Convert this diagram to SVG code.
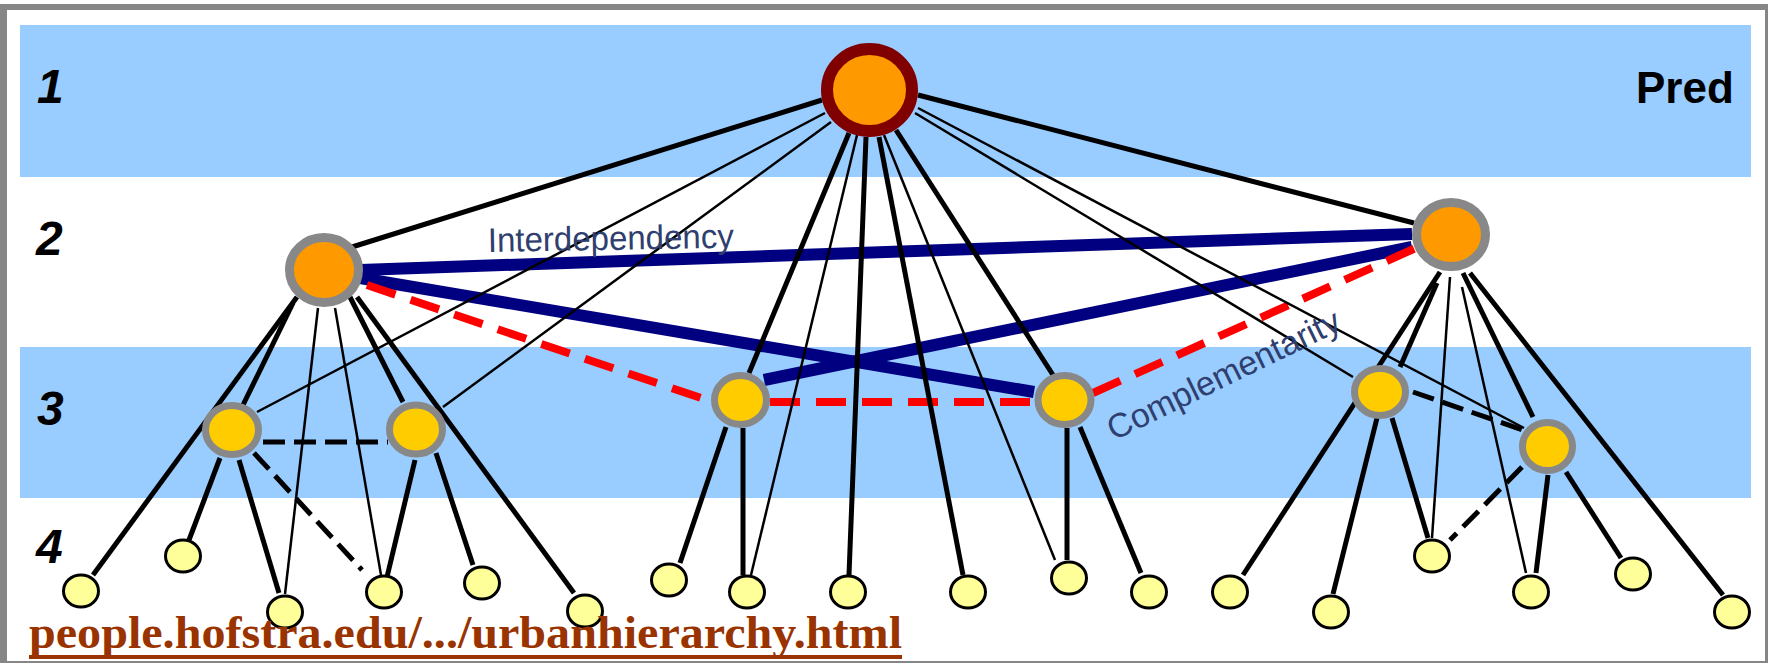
<svg xmlns="http://www.w3.org/2000/svg" width="1768" height="663" viewBox="0 0 1768 663">
<style>
.band{fill:#99CCFF}
.row{font-family:"Liberation Sans",Arial,sans-serif;font-weight:bold;font-style:italic;font-size:48px;fill:#000}
.lbl{font-family:"Liberation Sans",Arial,sans-serif;font-size:34px;fill:#2F3F6F}
.thick{stroke:#000;stroke-width:5;fill:none}
.thin{stroke:#000;stroke-width:2.5;fill:none}
.bdash{stroke:#000;stroke-width:5;fill:none;stroke-dasharray:22 9}
.navy{stroke:#000080;stroke-width:12;fill:none}
.red{stroke:#FF0000;stroke-width:8;fill:none;stroke-dasharray:30 16}
.top{fill:#FF9900;stroke:#800000;stroke-width:12}
.l2{fill:#FF9900;stroke:#888888;stroke-width:9}
.l3{fill:#FFCC00;stroke:#888888;stroke-width:7}
.l4{fill:#FFFF99;stroke:#000;stroke-width:3}
</style>
<rect x="0" y="0" width="1768" height="663" fill="#FFFFFF"/>
<g id="frame" fill="#868686">
<rect x="0" y="4" width="1768" height="6"/>
<rect x="0" y="4" width="7" height="659"/>
<rect x="1765" y="4" width="3" height="659"/>
<rect x="0" y="661" width="1768" height="2"/>
</g>
<g id="bands">
<rect class="band" x="20" y="25" width="1731" height="152"/>
<rect class="band" x="20" y="347" width="1731" height="151"/>
</g>
<g id="row-labels">
<text class="row" x="37" y="103">1</text>
<text class="row" x="36" y="255">2</text>
<text class="row" x="37" y="425">3</text>
<text class="row" x="36" y="563">4</text>
<text x="1636" y="103" font-family="Liberation Sans,Arial,sans-serif" font-weight="bold" font-size="44">Pred</text>
</g>
<g id="connectors">
<path class="navy" d="M360,270 L1412,234"/>
<path class="navy" d="M360,278 L1034,392"/>
<path class="navy" d="M764,380 L1412,247"/>
<path class="red" d="M367,285 L707,400"/>
<path class="red" d="M770,402 L1034,402"/>
<path class="red" d="M1093,393 L1418,247"/>
<path class="thick" d="M822,100 L352,247"/>
<path class="thick" d="M918,95 L1414,223"/>
<path class="thick" d="M849,133 L749,373"/>
<path class="thick" d="M866,137 L849,575"/>
<path class="thick" d="M879,137 L963,575"/>
<path class="thick" d="M896,130 L1053,375"/>
<path class="thin" d="M825,113 L257,412"/>
<path class="thin" d="M831,122 L443,407"/>
<path class="thin" d="M857,135 L751,575"/>
<path class="thin" d="M884,135 L1055,560"/>
<path class="thin" d="M918,108 L1524,428"/>
<path class="thin" d="M915,113 L1353,377"/>
<path class="thick" d="M297,297 L93,575"/>
<path class="thick" d="M293,303 L243,405"/>
<path class="thick" d="M350,297 L403,402"/>
<path class="thick" d="M357,297 L574,593"/>
<path class="thin" d="M318,308 L285,594"/>
<path class="thin" d="M335,308 L381,575"/>
<path class="thick" d="M220,458 L189,540"/>
<path class="thick" d="M239,460 L279,593"/>
<path class="thick" d="M415,460 L387,577"/>
<path class="thick" d="M436,453 L473,565"/>
<path class="bdash" d="M254,453 L362,570"/>
<path class="bdash" d="M263,442 L388,442"/>
<path class="thick" d="M726,427 L680,563"/>
<path class="thick" d="M743,428 L743,575"/>
<path class="thick" d="M1067,428 L1067,560"/>
<path class="thick" d="M1080,427 L1141,573"/>
<path class="thick" d="M1440,272 L1243,575"/>
<path class="thick" d="M1437,283 L1400,367"/>
<path class="thick" d="M1463,273 L1533,417"/>
<path class="thick" d="M1470,273 L1723,595"/>
<path class="thin" d="M1450,277 L1432,538"/>
<path class="thin" d="M1462,287 L1526,573"/>
<path class="thick" d="M1377,418 L1333,594"/>
<path class="thick" d="M1392,418 L1428,538"/>
<path class="bdash" d="M1413,392 L1523,430"/>
<path class="bdash" d="M1522,467 L1450,540"/>
<path class="thick" d="M1548,475 L1536,573"/>
<path class="thick" d="M1566,472 L1621,558"/>
</g>
<g id="link-labels">
<text class="lbl" x="488" y="252" textLength="246" lengthAdjust="spacingAndGlyphs" transform="rotate(-1 488 252)">Interdependency</text>
<text class="lbl" x="1114" y="441" textLength="255" lengthAdjust="spacingAndGlyphs" transform="rotate(-26 1114 441)">Complementarity</text>
</g>
<g id="n-top"><ellipse class="top" cx="869.5" cy="90" rx="42.5" ry="41"/></g>
<g id="n2-left"><ellipse class="l2" cx="324" cy="270" rx="34.5" ry="32.5"/></g>
<g id="n2-right"><ellipse class="l2" cx="1451" cy="234.5" rx="34.5" ry="32"/></g>
<g id="n3-a"><ellipse class="l3" cx="232" cy="430" rx="26.5" ry="24.5"/></g>
<g id="n3-b"><ellipse class="l3" cx="416" cy="429.5" rx="26.5" ry="24.5"/></g>
<g id="n3-c"><ellipse class="l3" cx="740.5" cy="400" rx="26" ry="24.5"/></g>
<g id="n3-d"><ellipse class="l3" cx="1064.5" cy="400" rx="26.5" ry="24.5"/></g>
<g id="n3-e"><ellipse class="l3" cx="1380" cy="392" rx="25.5" ry="23.5"/></g>
<g id="n3-f"><ellipse class="l3" cx="1547.5" cy="446.5" rx="25" ry="24"/></g>
<g id="n4-01"><ellipse class="l4" cx="81" cy="591" rx="17.5" ry="16"/></g>
<g id="n4-02"><ellipse class="l4" cx="183" cy="556" rx="17.5" ry="16"/></g>
<g id="n4-03"><ellipse class="l4" cx="285" cy="612" rx="17.5" ry="16"/></g>
<g id="n4-04"><ellipse class="l4" cx="384" cy="592" rx="17.5" ry="16"/></g>
<g id="n4-05"><ellipse class="l4" cx="482" cy="583" rx="17.5" ry="16"/></g>
<g id="n4-06"><ellipse class="l4" cx="585" cy="611" rx="17.5" ry="16"/></g>
<g id="n4-07"><ellipse class="l4" cx="669" cy="580" rx="17.5" ry="16"/></g>
<g id="n4-08"><ellipse class="l4" cx="747" cy="592" rx="17.5" ry="16"/></g>
<g id="n4-09"><ellipse class="l4" cx="848" cy="592" rx="17.5" ry="16"/></g>
<g id="n4-10"><ellipse class="l4" cx="968" cy="592" rx="17.5" ry="16"/></g>
<g id="n4-11"><ellipse class="l4" cx="1069" cy="578" rx="17.5" ry="16"/></g>
<g id="n4-12"><ellipse class="l4" cx="1149" cy="592" rx="17.5" ry="16"/></g>
<g id="n4-13"><ellipse class="l4" cx="1230" cy="592" rx="17.5" ry="16"/></g>
<g id="n4-14"><ellipse class="l4" cx="1331" cy="612" rx="17.5" ry="16"/></g>
<g id="n4-15"><ellipse class="l4" cx="1432" cy="556" rx="17.5" ry="16"/></g>
<g id="n4-16"><ellipse class="l4" cx="1531" cy="592" rx="17.5" ry="16"/></g>
<g id="n4-17"><ellipse class="l4" cx="1633" cy="574" rx="17.5" ry="16"/></g>
<g id="n4-18"><ellipse class="l4" cx="1732" cy="612" rx="17.5" ry="16"/></g>
<g id="source">
<text x="29" y="648" font-family="Liberation Serif,'Times New Roman',serif" font-weight="bold" font-size="47" fill="#993300" textLength="873" lengthAdjust="spacingAndGlyphs">people.hofstra.edu/.../urbanhierarchy.html</text>
<rect x="29" y="655" width="873" height="4" fill="#993300"/>
</g>
</svg>
